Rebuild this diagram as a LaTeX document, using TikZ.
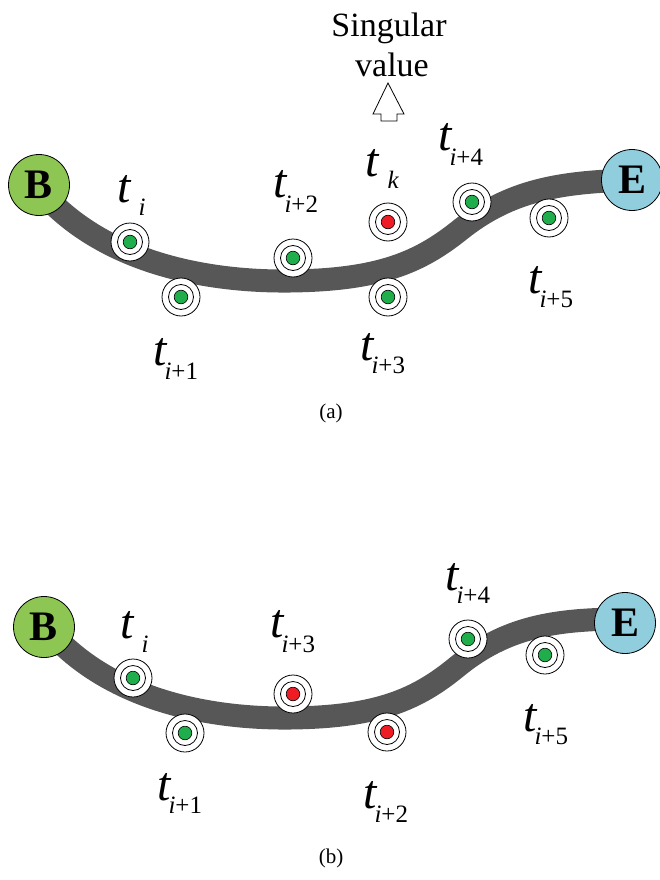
\documentclass[tikz,border=0pt]{standalone}
\usepackage{fontspec}
\setmainfont{Liberation Serif}
\definecolor{bandgray}{HTML}{575757}
\definecolor{dotgreen}{HTML}{1FAE4B}
\definecolor{dotred}{HTML}{EE1D25}
\definecolor{bgreen}{HTML}{8DC653}
\definecolor{eblue}{HTML}{90CDDD}
% t with a lowered subscript: #1 gap, #2 drop, #3 subscript text
\newcommand{\tvar}[3]{{\fontsize{48}{48}\selectfont\itshape t}\hspace{#1pt}\raisebox{-#2pt}{\fontsize{25}{25}\selectfont #3}}
\begin{document}
\begin{tikzpicture}[x=1pt,y=-1pt,
  band/.style={draw=bandgray, line width=23pt},
  endpt/.style={circle, draw=black, line width=0.8pt, minimum size=61pt, inner sep=0pt,
    font=\fontsize{42}{42}\selectfont\bfseries},
  marker/.style={circle, draw=black, fill=white, line width=0.8pt, minimum size=38pt, inner sep=0pt,
    path picture={
      \draw[line width=0.8pt] (path picture bounding box.center) circle (12.5pt);
      \filldraw[fill=#1, draw=black, line width=0.6pt] (path picture bounding box.center) circle (6.8pt);}},
  tl/.style={anchor=base west, inner sep=0pt},
  captxt/.style={inner sep=0pt, font=\fontsize{21}{21}\selectfont}]
\useasboundingbox (0,0) rectangle (659,880);

% ---------- (a) ----------
\draw[band] (40,190) .. controls (100,260) and (200,282) .. (290,281)
  .. controls (380,280) and (420,262) .. (460,230)
  .. controls (510,190) and (560,182) .. (632,180);
\node[endpt, fill=bgreen] (Ba) at (39,185) {B};
\node[endpt, fill=eblue] (Ea) at (632,180) {E};

\node[marker=dotgreen] (a0) at (130,242) {};
\node[marker=dotgreen] (a1) at (181,297) {};
\node[marker=dotgreen] (a2) at (293,258) {};
\node[marker=dotred]   (ak) at (388,222) {};
\node[marker=dotgreen] (a3) at (388,297) {};
\node[marker=dotgreen] (a4) at (472,202) {};
\node[marker=dotgreen] (a5) at (549,218) {};

\node[tl] (la0) at (117,202) {\tvar{8}{13}{\textit{i}}};
\node[tl] (la1) at (153,365) {\tvar{-2}{14}{\textit{i}+1}};
\node[tl] (la2) at (273,197) {\tvar{-2}{15}{\textit{i}+2}};
\node[tl] (lak) at (365,176) {\tvar{9}{12}{\textit{k}}};
\node[tl] (la3) at (360,360) {\tvar{-2}{13}{\textit{i}+3}};
\node[tl] (la4) at (438,150) {\tvar{-2}{15}{\textit{i}+4}};
\node[tl] (la5) at (528,293) {\tvar{-2}{14}{\textit{i}+5}};

\node[anchor=base, inner sep=0pt, font=\fontsize{34}{34}\selectfont] (sv1) at (389,37) {Singular};
\node[anchor=base, inner sep=0pt, font=\fontsize{34}{34}\selectfont] (sv2) at (392,77) {value};
\draw[line width=0.8pt, fill=white] (388,83) -- (404,114) -- (397,114) -- (397,121)
  -- (381,121) -- (381,114) -- (373,114) -- cycle;

\node[captxt] (capa) at (331,413) {(a)};

% ---------- (b) ----------
\draw[band] (46,627) .. controls (104.6,697) and (202.4,719) .. (290.5,718)
  .. controls (378.5,717) and (417.6,699) .. (456.7,667)
  .. controls (505.6,627) and (554.5,619) .. (625,619);
\node[endpt, fill=bgreen] (Bb) at (44,627) {B};
\node[endpt, fill=eblue] (Eb) at (625,623) {E};

\node[marker=dotgreen] (b0) at (133,678) {};
\node[marker=dotgreen] (b1) at (185,733) {};
\node[marker=dotred]   (b3) at (293,694) {};
\node[marker=dotred]   (b2) at (387,732) {};
\node[marker=dotgreen] (b4) at (468,639) {};
\node[marker=dotgreen] (b5) at (545,655) {};

\node[tl] (lb0) at (120,638) {\tvar{8}{14}{\textit{i}}};
\node[tl] (lb3) at (270,637) {\tvar{-2}{15}{\textit{i}+3}};
\node[tl] (lb1) at (157,800) {\tvar{-2}{13}{\textit{i}+1}};
\node[tl] (lb2) at (363,808) {\tvar{-2}{14}{\textit{i}+2}};
\node[tl] (lb4) at (445,590) {\tvar{-2}{13}{\textit{i}+4}};
\node[tl] (lb5) at (523,731) {\tvar{-2}{13}{\textit{i}+5}};

\node[captxt] (capb) at (331,858) {(b)};
\end{tikzpicture}
\end{document}
